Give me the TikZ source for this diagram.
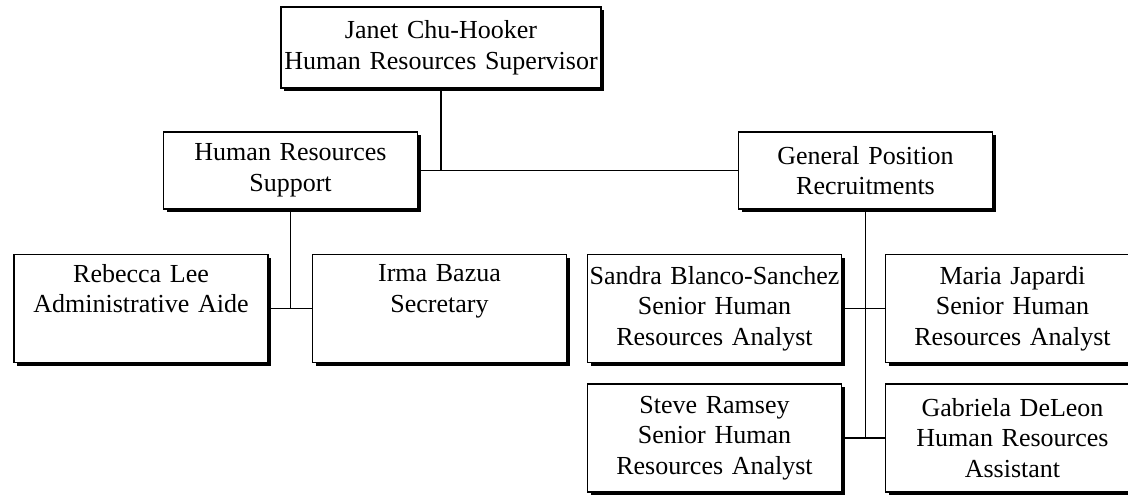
\documentclass[tikz,border=0pt]{standalone}
\usepackage{fontspec}
\setmainfont{Liberation Serif}
\usetikzlibrary{shadows}
\newcommand{\BOXFONT}{\fontsize{26}{30.5}\selectfont}

\begin{document}
\begin{tikzpicture}[
    x=1pt, y=-1pt,
    box/.style={draw=black, line width=1.2pt, fill=white, align=center, inner sep=2pt,
      font=\BOXFONT,
      drop shadow={shadow xshift=3.2pt, shadow yshift=-3.2pt, fill=black, opacity=1}},
    head/.style={box, text width=316pt, minimum height=81pt},
    unit/.style={box, text width=250pt, minimum height=77pt},
    staff/.style={box, text width=250pt, minimum height=108pt},
    link/.style={draw=black, line width=1.2pt},
  ]
  \useasboundingbox (0,0) rectangle (1128,495);
  \clip (0,0) rectangle (1128,495);

  %% ================= the supervisor and the two units =================
  \node[head] (janet) at (441,47.5) {Janet Chu-Hooker\\Human Resources Supervisor};
  \node[unit] (hrs) at (290.5,170.5) {Human Resources\\Support};
  \node[unit] (gpr) at (865.5,170.5) {General Position\\Recruitments};

  \draw[link] (hrs.east) -- (gpr.west);
  \draw[link] (janet.south) -- (janet.south |- hrs.east);

  %% ================= support staff =================
  % empty third line keeps the text at the top, as in the other staff boxes
  \node[staff] (rebecca) at (141,308.5)   {Rebecca Lee\\Administrative Aide\\\strut};
  \node[staff] (irma)    at (439.5,308.5) {Irma Bazua\\Secretary\\\strut};

  \draw[link] (rebecca.east) -- (irma.west);
  \draw[link] (hrs.south) -- (hrs.south |- rebecca.east);

  %% ================= recruitment staff =================
  \node[staff] (sandra)   at (714.5,308.5)  {Sandra Blanco-Sanchez\\Senior Human\\Resources Analyst};
  \node[staff] (maria)    at (1012.5,308.5) {Maria Japardi\\Senior Human\\Resources Analyst};
  \node[staff] (steve)    at (714.5,438)    {Steve Ramsey\\Senior Human\\Resources Analyst};
  \node[staff] (gabriela) at (1012.5,438)   {Gabriela DeLeon\\Human Resources\\Assistant};

  \draw[link] (sandra.east) -- (maria.west);
  \draw[link] (steve.east) -- (gabriela.west);
  \draw[link] (gpr.south) -- (gpr.south |- steve.east);

\end{tikzpicture}
\end{document}
